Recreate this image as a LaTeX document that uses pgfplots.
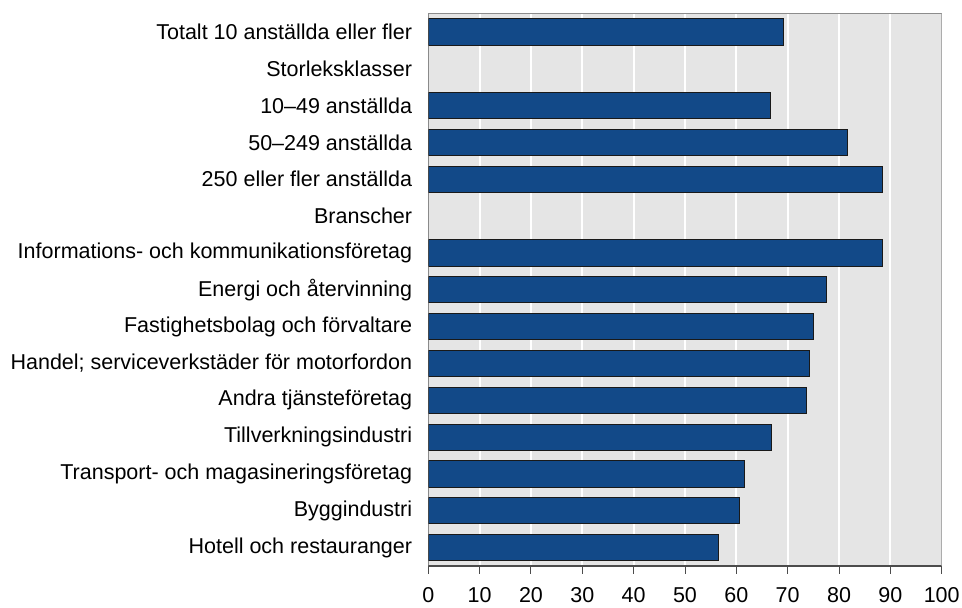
\documentclass[border=0pt]{standalone}
\usepackage{pgfplots}
\pgfplotsset{compat=1.18}
\usepackage{fontspec}
\setmainfont{Liberation Sans}
\definecolor{barblue}{RGB}{18,73,136}
\definecolor{bg}{RGB}{229,229,229}
\begin{document}
\begin{tikzpicture}
\begin{axis}[
  scale only axis, width=513.4pt, height=552.5pt,
  xbar, bar width=0.71, bar shift=0pt,
  xmin=0, xmax=100, ymin=-0.5, ymax=14.5,
  xtick={0,10,...,100}, ytick={0,...,14},
  yticklabels={Hotell och restauranger, Byggindustri, Transport- och magasineringsföretag, Tillverkningsindustri, Andra tjänsteföretag, {Handel; serviceverkstäder för motorfordon}, Fastighetsbolag och förvaltare, Energi och återvinning, Informations- och kommunikationsföretag, Branscher, 250 eller fler anställda, 50–249 anställda, 10–49 anställda, Storleksklasser, Totalt 10 anställda eller fler},
  axis line style={draw=none},
  axis background/.style={fill=bg},
  xmajorgrids, major grid style={white, line width=2.2pt},
  tick align=outside, major tick length=7.5pt,
  xtick pos=left, ytick pos=left,
  x tick style={draw=black!70, line width=1pt},
  y tick style={draw=none},
  tick label style={font=\fontsize{21.5}{25}\selectfont, text=black},
  /pgf/number format/assume math mode=true,
  yticklabel style={inner sep=0pt, xshift=-8.5pt},
  xticklabel style={inner sep=0pt, yshift=-14pt},
]
\addplot[fill=barblue, draw=black!90, line width=0.9pt] coordinates {
 (69.2,14) (66.6,12) (81.7,11) (88.5,10)
 (88.5,8) (77.6,7) (75.0,6) (74.3,5) (73.7,4) (66.8,3) (61.6,2) (60.6,1) (56.6,0)};
\draw[black!70, line width=1.5pt] (rel axis cs:0,0) -- (rel axis cs:0,1);
\draw[black!70, line width=1.5pt] (rel axis cs:0,0) -- (rel axis cs:1,0);
\draw[black!50, line width=2pt] (rel axis cs:1,0) -- (rel axis cs:1,1);
\draw[black!45, line width=1.2pt] (rel axis cs:0,1) -- (rel axis cs:1,1);
\end{axis}
\path (current axis.south west) +(-428.3pt,-41pt) (current axis.north east) +(20.3pt,13.5pt);
\end{tikzpicture}
\end{document}
